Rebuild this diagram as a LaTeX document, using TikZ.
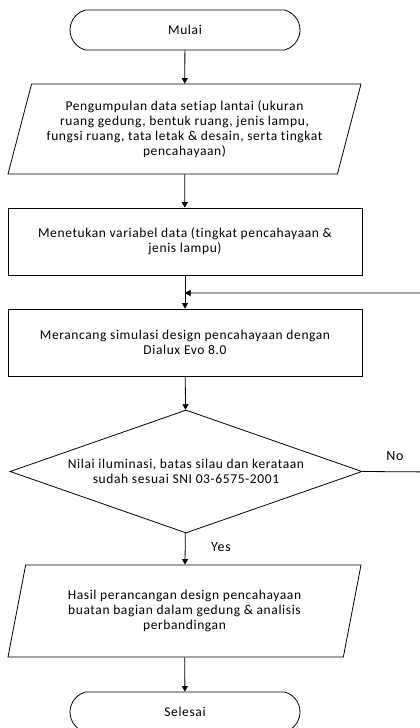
\documentclass[tikz,border=0pt]{standalone}
\usepackage{fontspec}
\setmainfont{Carlito}
\newfontfamily\widefont[LetterSpace=4.5,Ligatures={NoCommon}]{Carlito}
\usetikzlibrary{shapes.geometric,shapes.misc,arrows.meta}
\begin{document}
\begin{tikzpicture}[x=1pt,y=1pt,
  every node/.style={font=\widefont\fontsize{13.5}{14.8}\selectfont, align=center, inner sep=2pt},
  term/.style={draw, line width=0.8pt, rounded rectangle, rounded rectangle arc length=150, minimum width=234pt, minimum height=40pt},
  io/.style={draw, line width=0.8pt, trapezium, trapezium left angle=68.7, trapezium right angle=111.3, trapezium stretches body=true, minimum width=353pt},
  proc/.style={draw, line width=0.8pt, rectangle, minimum width=354pt, minimum height=67pt},
  dec/.style={draw, line width=0.8pt, diamond, aspect=2.86, inner sep=0pt, minimum width=352pt, minimum height=123pt},
  arr/.style={line width=0.8pt, -{Triangle[length=5.5pt,width=6pt]}},
  lbl/.style={font=\widefont\fontsize{14}{16}\selectfont}
]
\useasboundingbox (0,0) rectangle (420,-728);
\node[term] (start) at (185,-30) {Mulai};
\node[io, minimum height=90pt] (p1) at (184.5,-129) {Pengumpulan data setiap lantai (ukuran\\ruang gedung, bentuk ruang, jenis lampu,\\fungsi ruang, tata letak \& desain, serta tingkat\\pencahayaan)};
\node[proc] (b2) at (185,-241.5) {Menetukan variabel data (tingkat pencahayaan \&\\jenis lampu)};
\node[proc] (b3) at (185,-342.5) {Merancang simulasi design pencahayaan dengan\\Dialux Evo 8.0};
\node[dec] (d) at (186,-471.5) {Nilai iluminasi, batas silau dan kerataan\\sudah sesuai SNI 03-6575-2001};
\node[io, minimum height=92pt] (p2) at (184.5,-611) {Hasil perancangan design pencahayaan\\buatan bagian dalam gedung \& analisis\\perbandingan};
\node[term] (end) at (185,-712) {Selesai};
\coordinate (join) at (185,-293);
\coordinate (corner) at (440,-472);
\node[lbl] (no) at (395,-456) {No};
\node[lbl] (yes) at (221,-547) {Yes};
\draw[arr] (start) -- (p1);
\draw[arr] (p1) -- (b2);
\draw[arr] (b2) -- (b3);
\draw[arr] (b3) -- (d);
\draw[arr] (d) -- (p2);
\draw[arr] (p2) -- (end);
\draw[arr] (d.east) -- (corner) |- (join);
\end{tikzpicture}
\end{document}
